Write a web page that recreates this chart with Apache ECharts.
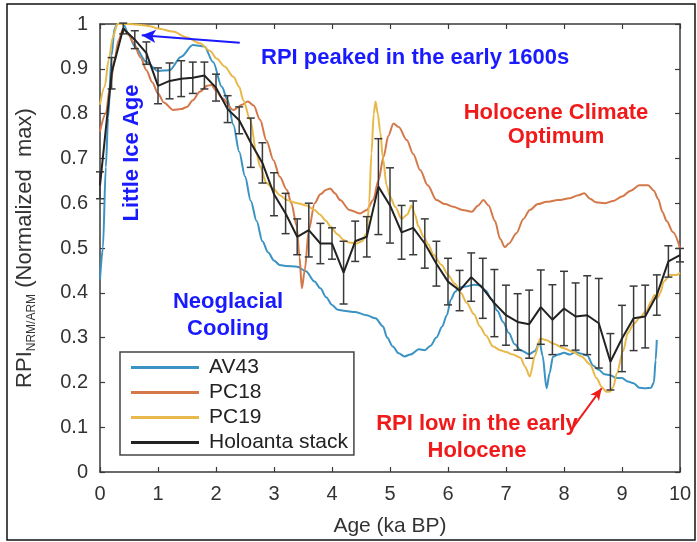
<!DOCTYPE html>
<html><head><meta charset="utf-8">
<script src="https://cdn.jsdelivr.net/npm/echarts@6/dist/echarts.min.js"></script>
<style>html,body{margin:0;padding:0;background:#fff}#c{width:697px;height:542px}</style>
</head><body><div id="c"></div>
<script>
// ---- data ----
const xTickLabels = ['0','1','2','3','4','5','6','7','8','9','10'];
const yTickLabels = ['0','0.1','0.2','0.3','0.4','0.5','0.6','0.7','0.8','0.9','1'];
const legendNames = ['AV43','PC18','PC19','Holoanta stack'];

const stackAges = [0,0.2,0.4,0.6,0.8,1.0,1.2,1.4,1.6,1.8,2.0,2.2,2.4,2.6,2.8,3.0,3.2,3.4,3.6,3.8,4.0,4.2,4.4,4.6,4.8,5.0,5.2,5.4,5.6,5.8,6.0,6.2,6.4,6.6,6.8,7.0,7.2,7.4,7.6,7.8,8.0,8.2,8.4,8.6,8.8,9.0,9.2,9.4,9.6,9.8,10.0];
const stackValues = [0.64,0.89,0.99,0.965,0.935,0.862,0.873,0.878,0.88,0.885,0.858,0.81,0.785,0.735,0.69,0.62,0.577,0.525,0.54,0.51,0.51,0.445,0.515,0.525,0.637,0.595,0.535,0.545,0.51,0.465,0.425,0.405,0.435,0.41,0.377,0.35,0.335,0.33,0.368,0.34,0.365,0.347,0.35,0.332,0.246,0.298,0.343,0.347,0.395,0.47,0.484];
const stackErr = [0.03,0.035,0.012,0.02,0.025,0.04,0.04,0.04,0.035,0.03,0.03,0.03,0.03,0.055,0.045,0.048,0.045,0.04,0.06,0.045,0.035,0.07,0.045,0.045,0.107,0.084,0.06,0.06,0.055,0.05,0.052,0.045,0.054,0.067,0.075,0.067,0.063,0.076,0.083,0.078,0.083,0.075,0.088,0.1,0.063,0.074,0.072,0.07,0.045,0.035,0.015];

const av43 = [[0,0.43],[0.05,0.5],[0.1,0.68],[0.14,0.79],[0.2,0.93],[0.25,0.99],[0.3,1.0],[0.4,1.0],[0.5,0.975],[0.6,0.95],[0.8,0.915],[1.0,0.895],[1.2,0.897],[1.4,0.927],[1.6,0.953],[1.8,0.95],[1.95,0.915],[2.1,0.86],[2.2,0.83],[2.3,0.775],[2.4,0.715],[2.5,0.66],[2.6,0.605],[2.7,0.56],[2.8,0.515],[2.9,0.49],[3.0,0.472],[3.1,0.462],[3.2,0.46],[3.4,0.458],[3.55,0.448],[3.7,0.425],[3.8,0.41],[3.9,0.39],[4.0,0.373],[4.1,0.362],[4.2,0.36],[4.4,0.357],[4.6,0.35],[4.75,0.343],[4.88,0.325],[4.95,0.3],[5.05,0.28],[5.15,0.265],[5.25,0.258],[5.35,0.262],[5.5,0.274],[5.6,0.272],[5.7,0.282],[5.8,0.3],[5.9,0.325],[5.98,0.35],[6.05,0.385],[6.12,0.402],[6.2,0.412],[6.3,0.414],[6.45,0.418],[6.55,0.417],[6.65,0.405],[6.75,0.385],[6.85,0.36],[6.95,0.335],[7.05,0.31],[7.15,0.285],[7.25,0.272],[7.4,0.263],[7.5,0.27],[7.58,0.29],[7.63,0.26],[7.7,0.187],[7.75,0.22],[7.81,0.257],[7.9,0.262],[8.0,0.266],[8.1,0.262],[8.2,0.268],[8.3,0.264],[8.4,0.26],[8.5,0.238],[8.6,0.228],[8.7,0.218],[8.8,0.216],[8.9,0.21],[9.0,0.21],[9.1,0.202],[9.2,0.198],[9.3,0.188],[9.4,0.187],[9.5,0.188],[9.55,0.2],[9.58,0.25],[9.6,0.295]];

const pc18 = [[0,0.76],[0.1,0.8],[0.17,0.857],[0.25,0.92],[0.32,0.964],[0.4,0.99],[0.5,0.975],[0.57,0.96],[0.7,0.925],[0.8,0.897],[0.9,0.87],[1.0,0.845],[1.1,0.825],[1.26,0.808],[1.4,0.81],[1.5,0.815],[1.6,0.83],[1.72,0.849],[1.85,0.862],[1.92,0.864],[2.0,0.852],[2.1,0.835],[2.3,0.808],[2.45,0.82],[2.55,0.827],[2.65,0.818],[2.76,0.786],[2.87,0.74],[2.99,0.696],[3.1,0.659],[3.22,0.63],[3.3,0.6],[3.39,0.55],[3.44,0.48],[3.48,0.41],[3.53,0.45],[3.6,0.54],[3.7,0.6],[3.8,0.62],[3.9,0.63],[3.97,0.633],[4.05,0.622],[4.14,0.607],[4.3,0.585],[4.48,0.577],[4.6,0.585],[4.71,0.607],[4.8,0.65],[4.89,0.704],[4.97,0.75],[5.06,0.778],[5.15,0.77],[5.29,0.741],[5.4,0.71],[5.52,0.674],[5.65,0.64],[5.8,0.607],[5.95,0.598],[6.09,0.592],[6.25,0.585],[6.41,0.581],[6.52,0.595],[6.61,0.607],[6.7,0.595],[6.81,0.56],[6.9,0.52],[6.98,0.502],[7.05,0.51],[7.18,0.533],[7.3,0.565],[7.41,0.585],[7.55,0.598],[7.7,0.603],[7.9,0.607],[8.1,0.611],[8.25,0.618],[8.35,0.622],[8.45,0.61],[8.55,0.602],[8.7,0.6],[8.85,0.605],[9.0,0.615],[9.15,0.628],[9.3,0.64],[9.45,0.64],[9.55,0.628],[9.62,0.61],[9.7,0.58],[9.77,0.56],[9.88,0.535],[10.0,0.5]];

const pc19 = [[0,0.82],[0.08,0.86],[0.15,0.92],[0.22,0.97],[0.3,1.0],[0.5,1.0],[0.7,0.998],[0.86,0.995],[1.0,0.99],[1.26,0.983],[1.5,0.97],[1.72,0.957],[1.9,0.94],[2.01,0.923],[2.15,0.905],[2.3,0.882],[2.4,0.86],[2.47,0.83],[2.59,0.786],[2.7,0.71],[2.76,0.682],[2.87,0.645],[2.99,0.632],[3.1,0.618],[3.22,0.607],[3.4,0.6],[3.56,0.595],[3.7,0.585],[3.79,0.575],[3.9,0.56],[3.97,0.548],[4.1,0.53],[4.2,0.518],[4.3,0.512],[4.42,0.51],[4.52,0.515],[4.6,0.533],[4.64,0.6],[4.68,0.711],[4.72,0.8],[4.75,0.827],[4.79,0.8],[4.83,0.76],[4.88,0.7],[4.94,0.64],[5.0,0.615],[5.09,0.592],[5.2,0.565],[5.3,0.575],[5.37,0.595],[5.43,0.575],[5.49,0.548],[5.58,0.525],[5.66,0.508],[5.75,0.485],[5.89,0.462],[6.0,0.44],[6.12,0.42],[6.22,0.4],[6.32,0.378],[6.45,0.352],[6.55,0.325],[6.65,0.305],[6.78,0.28],[6.9,0.272],[7.0,0.268],[7.12,0.262],[7.25,0.255],[7.33,0.235],[7.41,0.213],[7.5,0.26],[7.59,0.298],[7.7,0.294],[7.81,0.287],[8.0,0.276],[8.16,0.268],[8.3,0.258],[8.45,0.24],[8.56,0.21],[8.65,0.19],[8.73,0.179],[8.79,0.179],[8.85,0.19],[8.91,0.22],[9.02,0.27],[9.1,0.31],[9.2,0.33],[9.31,0.345],[9.42,0.36],[9.5,0.38],[9.56,0.395],[9.62,0.39],[9.66,0.4],[9.72,0.425],[9.83,0.44],[9.94,0.44],[10.0,0.445]];

// annotation arrows in data coordinates [from, to]
const peakArrow = [[2.41,0.958],[0.72,0.975]];
const lowArrow = [[8.16,0.10],[8.65,0.187]];

// ---- chart ----
const FONT = '"Liberation Sans", Arial, Helvetica, sans-serif';
const AXC = '#3a3a3a';
const chart = echarts.init(document.getElementById('c'), null, {renderer:'canvas'});

const stackData = stackAges.map((a,i)=>[a, stackValues[i]]);
const errData = stackAges.map((a,i)=>[a, stackValues[i]-stackErr[i], stackValues[i]+stackErr[i]]);

function axisCommon(extra){
  return Object.assign({
    axisLine:{show:true, onZero:false, lineStyle:{color:AXC, width:1.5}},
    axisTick:{show:true, inside:true, length:5, lineStyle:{color:AXC, width:1.2}},
    splitLine:{show:false}
  }, extra);
}

chart.setOption({
  animation:false,
  backgroundColor:'#fff',
  grid:{left:100, right:17, top:24, bottom:70, containLabel:false},
  xAxis:[
    axisCommon({type:'value', min:0, max:10, interval:1, position:'bottom',
      axisLabel:{fontSize:20, color:'#333', margin:12, fontFamily:FONT,
        formatter:v=>xTickLabels[Math.round(v)]},
      name:'Age (ka BP)', nameLocation:'middle', nameGap:44,
      nameTextStyle:{fontSize:21, color:'#333', fontFamily:FONT}}),
    axisCommon({type:'value', min:0, max:10, interval:1, position:'top', axisLabel:{show:false}})
  ],
  yAxis:[
    axisCommon({type:'value', min:0, max:1, interval:0.1, position:'left',
      axisLabel:{fontSize:20, color:'#333', margin:12, fontFamily:FONT,
        formatter:v=>yTickLabels[Math.round(v*10)]},
      name:'{m|RPI}{s|NRM/ARM}{m| (Normalized  max)}', nameLocation:'middle', nameGap:62, nameRotate:90,
      nameTextStyle:{rich:{
        m:{fontSize:22, color:'#333', lineHeight:26, fontFamily:FONT},
        s:{fontSize:12, color:'#333', lineHeight:12, verticalAlign:'bottom', fontFamily:FONT}
      }}}),
    axisCommon({type:'value', min:0, max:1, interval:0.1, position:'right', axisLabel:{show:false}})
  ],
  legend:{
    data:legendNames, orient:'vertical', left:120, top:352, icon:'rect',
    itemWidth:68, itemHeight:3, itemGap:4, padding:[5,6,2,11],
    borderColor:'#444', borderWidth:1.5, backgroundColor:'#fff',
    textStyle:{fontSize:21, color:'#222', lineHeight:20, padding:[0,0,0,5], fontFamily:FONT},
    selectedMode:false
  },
  series:[
    {name:'AV43', type:'line', data:av43, symbol:'none', smooth:0.3, smoothMonotone:'x',
      color:'#3a93c3', lineStyle:{width:2, color:'#3a93c3'}, z:2,
      markLine:{silent:true, symbol:['none','arrow'], symbolSize:[10,14], label:{show:false},
        lineStyle:{color:'#1a1aff', width:2, type:'solid'},
        data:[[{coord:peakArrow[0]},{coord:peakArrow[1]}]]}},
    {name:'PC18', type:'line', data:pc18, symbol:'none', smooth:0.3, smoothMonotone:'x',
      color:'#d4784a', lineStyle:{width:2, color:'#d4784a'}, z:2,
      markLine:{silent:true, symbol:['none','arrow'], symbolSize:[8,12], label:{show:false},
        lineStyle:{color:'#f01a1a', width:2, type:'solid'},
        data:[[{coord:lowArrow[0]},{coord:lowArrow[1]}]]}},
    {name:'PC19', type:'line', data:pc19, symbol:'none', smooth:0.3, smoothMonotone:'x',
      color:'#e8b94a', lineStyle:{width:2, color:'#e8b94a'}, z:2},
    {name:'Holoanta stack', type:'line', data:stackData, symbol:'none',
      color:'#222', lineStyle:{width:2, color:'#222'}, z:4},
    {name:'errbars', type:'custom', data:errData, z:3, encode:{x:0, y:[1,2]},
      renderItem:(params, api)=>{
        const x = api.value(0);
        const lo = api.coord([x, api.value(1)]);
        const hi = api.coord([x, api.value(2)]);
        const w = 4;
        const st = {stroke:'#3a3a3a', lineWidth:1.5, fill:null};
        return {type:'group', children:[
          {type:'line', shape:{x1:lo[0],y1:lo[1],x2:hi[0],y2:hi[1]}, style:st},
          {type:'line', shape:{x1:lo[0]-w,y1:lo[1],x2:lo[0]+w,y2:lo[1]}, style:st},
          {type:'line', shape:{x1:hi[0]-w,y1:hi[1],x2:hi[0]+w,y2:hi[1]}, style:st}
        ]};
      }}
  ],
  graphic:[
    {type:'rect', z:-10, silent:true, shape:{x:7, y:4, width:688, height:536},
      style:{fill:null, stroke:'#111', lineWidth:1.5}},
    {type:'text', x:261, y:58, silent:true, style:{text:'RPI peaked in the early 1600s', fill:'#1a1aff',
      fontSize:22, fontWeight:'bold', fontFamily:FONT, verticalAlign:'middle', align:'left'}},
    {type:'text', x:132, y:153, rotation:Math.PI/2, silent:true, style:{text:'Little Ice Age', fill:'#1a1aff',
      fontSize:22, fontWeight:'bold', fontFamily:FONT, verticalAlign:'middle', align:'center'}},
    {type:'text', x:228, y:315, silent:true, style:{text:'Neoglacial\nCooling', fill:'#1a1aff',
      fontSize:22, fontWeight:'bold', fontFamily:FONT, lineHeight:27, verticalAlign:'middle', align:'center'}},
    {type:'text', x:556, y:125, silent:true, style:{text:'Holocene Climate\nOptimum', fill:'#f01a1a',
      fontSize:22, fontWeight:'bold', fontFamily:FONT, lineHeight:24, verticalAlign:'middle', align:'center'}},
    {type:'text', x:477, y:437, silent:true, style:{text:'RPI low in the early\nHolocene', fill:'#f01a1a',
      fontSize:22, fontWeight:'bold', fontFamily:FONT, lineHeight:27, verticalAlign:'middle', align:'center'}}
  ]
});
</script>
</body></html>
